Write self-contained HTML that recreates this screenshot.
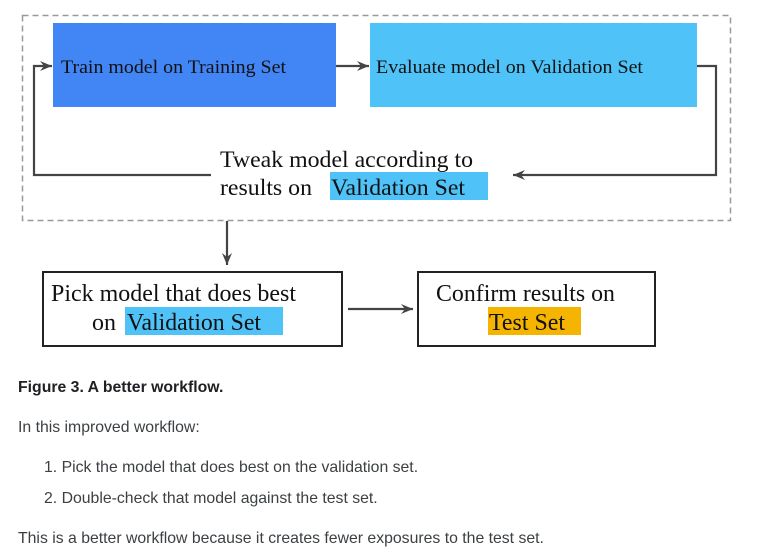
<!DOCTYPE html>
<html><head><meta charset="utf-8"><style>
body{margin:0;background:#fff;width:777px;height:551px;overflow:hidden;font-family:"Liberation Sans",sans-serif;}
.t{position:absolute;left:18px;font-size:15.8px;color:#3c4043;white-space:nowrap;}
</style></head><body>
<svg width="777" height="360" style="position:absolute;left:0;top:0" xmlns="http://www.w3.org/2000/svg">
<defs><marker id="a" markerWidth="14" markerHeight="14" refX="12" refY="6" orient="auto" markerUnits="userSpaceOnUse"><path d="M0,1 L12,6 L0,11 L4,6 Z" fill="#444"/></marker></defs>
<rect x="22.5" y="15.5" width="708" height="205" fill="none" stroke="#999" stroke-width="1.5" stroke-dasharray="6,4"/>
<rect x="53" y="23" width="283" height="84" fill="#4285f4"/>
<rect x="370" y="23" width="327" height="84" fill="#4fc3f7"/>
<g font-family="Liberation Serif,serif" fill="#111">
<text x="61" y="73" font-size="19" textLength="225" lengthAdjust="spacingAndGlyphs">Train model on Training Set</text>
<text x="376" y="73" font-size="19" textLength="267" lengthAdjust="spacingAndGlyphs">Evaluate model on Validation Set</text>
</g>
<g stroke="#444" stroke-width="2.2" fill="none">
<line x1="336" y1="66" x2="369" y2="66" marker-end="url(#a)"/>
<polyline points="697,66 716,66 716,175 513,175" marker-end="url(#a)"/>
<polyline points="211,175 34,175 34,66 52,66" marker-end="url(#a)"/>
<line x1="227" y1="221" x2="227" y2="265" marker-end="url(#a)"/>
<line x1="348" y1="309" x2="413" y2="309" marker-end="url(#a)"/>
</g>
<rect x="330" y="172" width="158" height="28" fill="#4fc3f7"/>
<g font-family="Liberation Serif,serif" fill="#111" font-size="23">
<text x="220" y="167" textLength="253" lengthAdjust="spacingAndGlyphs">Tweak model according to</text>
<text x="220" y="195" textLength="92" lengthAdjust="spacingAndGlyphs">results on</text>
<text x="331" y="195" textLength="134" lengthAdjust="spacingAndGlyphs">Validation Set</text>
</g>
<rect x="43" y="272" width="299" height="74" fill="none" stroke="#222" stroke-width="2"/>
<rect x="418" y="272" width="237" height="74" fill="none" stroke="#222" stroke-width="2"/>
<rect x="125" y="307" width="158" height="28" fill="#4fc3f7"/>
<rect x="488" y="307" width="93" height="28" fill="#f4b400"/>
<g font-family="Liberation Serif,serif" fill="#111" font-size="24">
<text x="51" y="301" textLength="245" lengthAdjust="spacingAndGlyphs">Pick model that does best</text>
<text x="92" y="330" textLength="24" lengthAdjust="spacingAndGlyphs">on</text>
<text x="127" y="330" textLength="134" lengthAdjust="spacingAndGlyphs">Validation Set</text>
<text x="436" y="301" textLength="179" lengthAdjust="spacingAndGlyphs">Confirm results on</text>
<text x="489" y="330" textLength="76" lengthAdjust="spacingAndGlyphs">Test Set</text>
</g>
</svg>
<div class="t" style="top:379px;font-weight:bold;color:#202124;">Figure 3. A better workflow.</div>
<div class="t" style="top:419px;">In this improved workflow:</div>
<div class="t" style="top:459px;left:44px;">1. Pick the model that does best on the validation set.</div>
<div class="t" style="top:490px;left:44px;">2. Double-check that model against the test set.</div>
<div class="t" style="top:530px;">This is a better workflow because it creates fewer exposures to the test set.</div>
</body></html>
